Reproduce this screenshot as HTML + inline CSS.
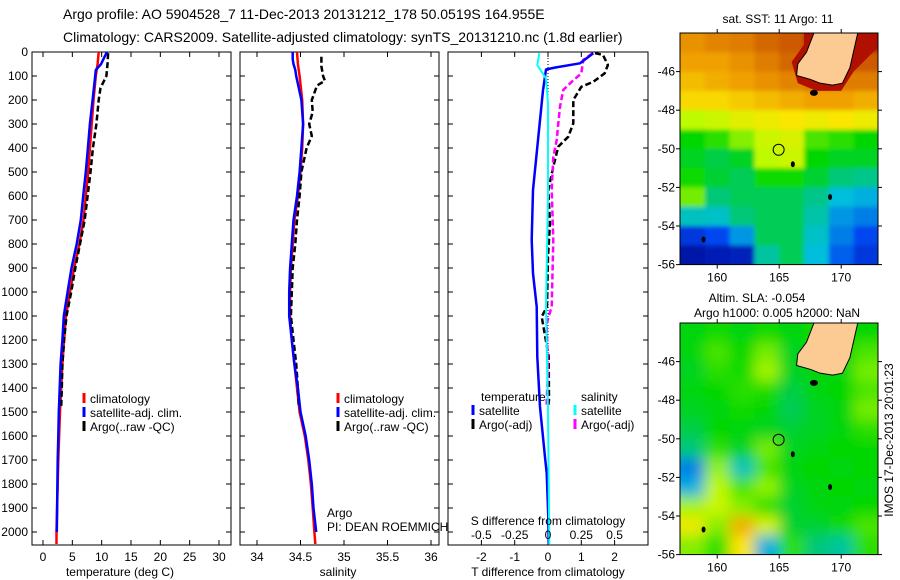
<!DOCTYPE html>
<html><head><meta charset="utf-8"><style>
body{margin:0;background:#fff}
svg{display:block;font-family:"Liberation Sans",sans-serif}
</style></head><body>
<svg id="fig" width="900" height="580" viewBox="0 0 900 580" xmlns="http://www.w3.org/2000/svg">
<rect width="900" height="580" fill="#fff"/>
<text x="63" y="19" font-size="14">Argo profile: AO 5904528_7 11-Dec-2013 20131212_178 50.0519S 164.955E</text>
<text x="63" y="42" font-size="14">Climatology: CARS2009. Satellite-adjusted climatology: synTS_20131210.nc (1.8d earlier)</text>
<g id="plots"></g>
</svg>
<script>
// ---- profile data ----
const climDepth=[0,50,100,200,300,400,500,600,700,800,900,1000,1100,1200,1300,1400,1500,1600,1700,1800,1900,2000,2050];
const climT=[9.5,9.3,9.0,8.6,8.3,8.0,7.7,7.3,6.9,6.2,5.3,4.6,3.9,3.6,3.3,3.1,2.9,2.75,2.6,2.5,2.4,2.3,2.3];
const climS=[34.46,34.47,34.49,34.52,34.53,34.52,34.50,34.47,34.43,34.41,34.39,34.38,34.38,34.40,34.43,34.46,34.49,34.55,34.59,34.62,34.64,34.66,34.67];
const satDepth=[0,30,50,75,100,200,300,400,500,600,700,800,900,1000,1100,1200,1300,1400,1500,1600,1700,1800,1900,2000];
const satT=[10.9,10.3,9.9,9.0,8.9,8.45,8.0,7.65,7.3,6.85,6.45,5.75,4.85,4.2,3.55,3.3,3.0,2.85,2.7,2.6,2.5,2.45,2.4,2.35];
const satS=[34.41,34.41,34.42,34.44,34.45,34.51,34.53,34.51,34.49,34.46,34.42,34.40,34.38,34.37,34.37,34.40,34.43,34.47,34.50,34.56,34.60,34.63,34.65,34.68];
const argoTDepth=[5,50,100,150,200,300,400,500,600,700,800,900,1000,1100,1200,1300,1400,1480];
const argoT=[11.1,11.0,10.8,9.8,9.5,9.1,8.5,8.1,7.6,7.1,6.3,5.5,4.8,4.0,3.6,3.3,3.2,3.1];
const argoSDepth=[20,60,100,120,140,200,250,300,350,400,500,600,700,800,900,1000,1100,1200,1300,1400,1480];
const argoS=[34.74,34.74,34.76,34.78,34.69,34.63,34.64,34.60,34.63,34.57,34.51,34.49,34.46,34.44,34.41,34.40,34.39,34.42,34.45,34.47,34.48];
const dTsatDepth=[5,47,65,73,160,367,575,783,922,1061,1271,1479,1688,1754,1938,2050];
const dTsat=[1.36,0.96,0.2,-0.06,-0.15,-0.3,-0.45,-0.49,-0.45,-0.34,-0.32,-0.24,-0.09,-0.04,0.01,0.02];
const dTargoDepth=[5,12,54,89,124,145,200,297,353,394,478,575,714,853,1061,1103,1158,1269,1450,1480];
const dTargo=[1.41,1.65,1.8,1.7,1.36,1.0,0.76,0.76,0.61,0.31,0.16,0.01,0.06,0,-0.03,-0.19,-0.12,0.02,0.03,0.0];
const dSsatDepth=[5,55,110,215,600,1061,1500,2050];
const dSsat=[-0.065,-0.08,-0.015,0,0,-0.015,0,0.01];
const dSargoDepth=[5,33,89,124,158,228,297,367,436,575,783,1061,1131,1339,1450,1480];
const dSargo=[0.335,0.265,0.25,0.178,0.115,0.09,0.077,0.065,0.04,0.028,0.04,0.028,-0.01,0.0,-0.01,-0.01];
const depthTicks=[0,100,200,300,400,500,600,700,800,900,1000,1100,1200,1300,1400,1500,1600,1700,1800,1900,2000];
const tTicks=[0,5,10,15,20,25,30];
const sTicks=[34,34.5,35,35.5,36];
const sTickLabels=["34","34.5","35","35.5","36"];
const dTicks=[-2,-1,0,1,2];
const dsLabels=["-0.5","-0.25","0","0.25","0.5"];
// ---- map data (colour fraction 0..1), rows lat -44..-55, cols lon 157..171 step 2 ----
const sstGrid=[
[0.82,0.84,0.85,0.88,0.90,0.97,0.97,0.97],
[0.80,0.80,0.82,0.85,0.88,0.92,0.90,0.90],
[0.76,0.78,0.80,0.82,0.84,0.86,0.85,0.85],
[0.72,0.72,0.74,0.76,0.78,0.80,0.80,0.78],
[0.60,0.62,0.66,0.68,0.70,0.68,0.70,0.68],
[0.47,0.50,0.56,0.62,0.64,0.52,0.50,0.47],
[0.45,0.43,0.45,0.60,0.62,0.47,0.45,0.45],
[0.48,0.44,0.42,0.48,0.48,0.44,0.40,0.38],
[0.55,0.40,0.42,0.42,0.42,0.38,0.30,0.28],
[0.33,0.32,0.40,0.42,0.42,0.35,0.25,0.22],
[0.12,0.15,0.25,0.42,0.42,0.32,0.22,0.15],
[0.04,0.06,0.07,0.36,0.42,0.30,0.18,0.12]];
const slaGrid=[
[0.46,0.48,0.46,0.48,0.46,0.48,0.46,0.47],
[0.46,0.52,0.47,0.55,0.45,0.48,0.47,0.52],
[0.45,0.50,0.48,0.58,0.45,0.46,0.46,0.55],
[0.46,0.47,0.50,0.49,0.43,0.46,0.47,0.52],
[0.45,0.46,0.48,0.47,0.42,0.45,0.46,0.55],
[0.43,0.47,0.46,0.45,0.44,0.45,0.46,0.50],
[0.40,0.50,0.45,0.55,0.45,0.46,0.47,0.47],
[0.22,0.57,0.33,0.52,0.46,0.47,0.46,0.47],
[0.28,0.60,0.52,0.57,0.45,0.46,0.47,0.46],
[0.58,0.62,0.56,0.50,0.44,0.46,0.46,0.47],
[0.68,0.56,0.78,0.64,0.44,0.44,0.48,0.52],
[0.56,0.50,0.70,0.28,0.50,0.40,0.36,0.50]];
const argoLon=164.955, argoLat=-50.0519;

const NS="http://www.w3.org/2000/svg";
const root=document.getElementById('plots');
function el(tag,attrs,parent){const e=document.createElementNS(NS,tag);for(const k in attrs)e.setAttribute(k,attrs[k]);(parent||root).appendChild(e);return e;}
const TOP=52,BOT=545;
const yD=d=>TOP+d*0.24;
function lin(d0,d1,r0,r1){return v=>r0+(v-d0)*(r1-r0)/(d1-d0);}
const panels=[
 {name:'temperature-panel',x0:32,x1:231,sx:lin(0,30,43,219),ticks:tTicks,labels:tTicks.map(String),title:'temperature (deg C)',tx:120},
 {name:'salinity-panel',x0:240,x1:439,sx:lin(34,36,257,431),ticks:sTicks,labels:sTickLabels,title:'salinity',tx:338},
 {name:'difference-panel',x0:448,x1:648,sx:lin(0,1,548,581.3),ticks:dTicks,labels:dTicks.map(String),title:'T difference from climatology',tx:548}
];
panels.forEach((p,i)=>{
 const g=el('g',{});
 
 
 const fr=el('rect',{x:p.x0,y:TOP,width:p.x1-p.x0,height:BOT-TOP,fill:'none',stroke:'#000','stroke-width':1},g);
 
 
 depthTicks.forEach(d=>{
  const y=yD(d);
  el('line',{x1:p.x0,x2:p.x0+5,y1:y,y2:y,stroke:'#000'},g);
  el('line',{x1:p.x1-5,x2:p.x1,y1:y,y2:y,stroke:'#000'},g);
  if(i===0){const t=el('text',{x:28,y:y+4,'font-size':12,'text-anchor':'end'},g);t.textContent=d;
   
   }
 });
 p.ticks.forEach((v,k)=>{
  const x=p.sx(v);
  el('line',{x1:x,x2:x,y1:BOT,y2:BOT-5,stroke:'#000'},g);
  el('line',{x1:x,x2:x,y1:TOP,y2:TOP+5,stroke:'#000'},g);
  const t=el('text',{x:x,y:561,'font-size':12,'text-anchor':'middle'},g);t.textContent=p.labels[k];
  
  
 });
 const tt=el('text',{x:p.tx,y:576,'font-size':12,'text-anchor':'middle'},g);tt.textContent=p.title;
 
 
});
function line(name,depths,vals,sx,color,dash,w){
 const pts=depths.map((d,k)=>sx(vals[k]).toFixed(1)+','+yD(d).toFixed(1)).join(' ');
 const a={points:pts,fill:'none',stroke:color,'stroke-width':w||2.5,'stroke-linejoin':'round'};
 if(dash)a['stroke-dasharray']=dash;
 const e=el('polyline',a);
 
 
}
const sT=panels[0].sx,sS=panels[1].sx,sD=panels[2].sx,sDS=v=>sD(v*4);
line('temp-climatology-line',climDepth,climT,sT,'#f00');
line('temp-argo-line',argoTDepth,argoT,sT,'#000','6,3',2.5);
line('temp-satellite-line',satDepth,satT,sT,'#00f');
line('sal-climatology-line',climDepth,climS,sS,'#f00');
line('sal-argo-line',argoSDepth,argoS,sS,'#000','6,3',2.5);
line('sal-satellite-line',satDepth,satS,sS,'#00f');
const zl=el('line',{x1:sD(0),x2:sD(0),y1:TOP,y2:BOT,stroke:'#000','stroke-dasharray':'1,2'});


line('tdiff-argo-line',dTargoDepth,dTargo,sD,'#000','6,3',2.5);
line('sdiff-argo-line',dSargoDepth,dSargo,sDS,'#f0f','6,3',2.5);
line('tdiff-satellite-line',dTsatDepth,dTsat,sD,'#00f');
line('sdiff-satellite-line',dSsatDepth,dSsat,sDS,'#0ff',null,2);

function txt(name,x,y,s,size,anchor){const t=el('text',{x:x,y:y,'font-size':size||12,'text-anchor':anchor||'start'});t.textContent=s;
 
 return t;}
function legend(name,x,y,color,label){
 const g=el('g',{});
 
 
 el('line',{x1:x,x2:x,y1:y-10,y2:y,stroke:color,'stroke-width':3},g);
 const t=el('text',{x:x+6,y:y,'font-size':12},g);t.textContent=label;
}
[[84,'#f00','climatology',403],[84,'#00f','satellite-adj. clim.',417],[84,'#000','Argo(..raw -QC)',431]].forEach(a=>legend('legend-entry',a[0],a[3],a[1],a[2]));
[[338,'#f00','climatology',403],[338,'#00f','satellite-adj. clim.',417],[338,'#000','Argo(..raw -QC)',431]].forEach(a=>legend('legend-entry',a[0],a[3],a[1],a[2]));
txt('legend-temperature-heading',481,401,'temperature');
txt('legend-salinity-heading',581,401,'salinity');
legend('legend-entry',473,415,'#00f','satellite');
legend('legend-entry',473,429,'#000','Argo(-adj)');
legend('legend-entry',575,415,'#0ff','satellite');
legend('legend-entry',575,429,'#f0f','Argo(-adj)');
txt('argo-label',327,517,'Argo');
txt('pi-label',327,531,'PI: DEAN ROEMMICH');
txt('s-diff-axis-title',548,525,'S difference from climatology',12,'middle');
dsLabels.forEach((s,k)=>txt('s-diff-tick-label',sD(dTicks[k]),539,s,12,'middle'));

// ---- maps ----
const stops=[[0,[0,0,140]],[0.15,[0,70,240]],[0.3,[0,190,220]],[0.4,[0,200,120]],[0.47,[0,215,0]],[0.6,[190,250,0]],[0.7,[250,230,0]],[0.8,[240,160,0]],[0.9,[205,90,0]],[1,[160,0,0]]];
function cmap(v){
 for(let i=1;i<stops.length;i++){if(v<=stops[i][0]){const a=stops[i-1],b=stops[i],t=(v-a[0])/(b[0]-a[0]);
  return 'rgb('+a[1].map((c,k)=>Math.round(c+(b[1][k]-c)*t)).join(',')+')';}}
 return 'rgb(160,0,0)';
}
const defs=el('defs',{});
const f=el('filter',{id:'blur',x:'-10%',y:'-10%',width:'120%',height:'120%'},defs);
el('feGaussianBlur',{stdDeviation:7},f);
const f2=el('filter',{id:'blur2'},defs);
el('feGaussianBlur',{stdDeviation:2},f2);
function map(name,top,grid,blurId,coastRed){
 const L=680,R=878,B=top+12*19.3;
 const mx=lon=>L+(lon-157)*12.4, my=lat=>top+(-44-lat)*19.3;
 const cp=el('clipPath',{id:'cp'+name},defs);
 el('rect',{x:L,y:top,width:R-L,height:B-top},cp);
 const g=el('g',{'clip-path':'url(#cp'+name+')'});
 
 
 const cg=el('g',{filter:'url(#'+blurId+')'},g);
 grid.forEach((row,r)=>row.forEach((v,c)=>{
  const x=mx(157+c*2)-(c===0?12:0), y=my(-44-r)-(r===0?12:0);
  const w=24.8+(c===0?12:0)+(c===7?14:0), h=19.3+(r===0?12:0)+(r===11?14:0);
  const cell=el('rect',{x:x,y:y,width:w+0.5,height:h+0.5,fill:cmap(v)},cg);
  
  
 }));
 if(coastRed){
  const cr=[[167.0,-43.5],[173.5,-43.5],[173.5,-44.4],[171.0,-46.0],[170.0,-47.0],[168.0,-47.0],[166.5,-46.6],[166.0,-45.5],[167.0,-44.6]];
  const c=el('polygon',{points:cr.map(p=>mx(p[0])+','+my(p[1])).join(' '),fill:'#b01000'},g);
  
  
 }
 const land=[[168.1,-43.5],[171.6,-43.5],[171.3,-44.1],[170.7,-45.8],[170.1,-46.6],[169.3,-46.7],[168.3,-46.6],[167.5,-46.4],[166.4,-46.2],[166.5,-45.6],[167.2,-45.0]];
 const lp=el('polygon',{points:land.map(p=>mx(p[0])+','+my(p[1])).join(' '),fill:'#fccb94',stroke:'#000','stroke-width':1},g);
 
 
 const si=el('ellipse',{cx:mx(167.8),cy:my(-47.1),rx:4,ry:3,fill:'#000'},g);
 
 
 [[166.1,-50.8],[169.1,-52.5],[158.9,-54.7]].forEach(p=>{const s=el('ellipse',{cx:mx(p[0]),cy:my(p[1]),rx:2,ry:3,fill:'#000'},g);
  
  });
 const pc=el('circle',{cx:mx(argoLon),cy:my(argoLat),r:5.5,fill:'none',stroke:'#000','stroke-width':1},g);
 
 
 const fr=el('rect',{x:L,y:top,width:R-L,height:B-top,fill:'none',stroke:'#000'});
 
 
 [-46,-48,-50,-52,-54,-56].forEach(lat=>{const y=my(lat);
  el('line',{x1:L-4,x2:L,y1:y,y2:y,stroke:'#000'});el('line',{x1:R,x2:R+4,y1:y,y2:y,stroke:'#000'});
  txt('lat-tick-label',675,y+4,String(lat),12,'end');});
 [160,165,170].forEach(lon=>{const x=mx(lon);
  el('line',{x1:x,x2:x,y1:B,y2:B+4,stroke:'#000'});el('line',{x1:x,x2:x,y1:top-4,y2:top,stroke:'#000'});
  txt('lon-tick-label',x,B+17,String(lon),12,'middle');});
}
map('sst-map',33,sstGrid,'blur2',true);
map('sla-map',323,slaGrid,'blur',false);
txt('sst-map-title',778,23,'sat. SST: 11 Argo: 11',12,'middle');
txt('sla-map-title',757,302,'Altim. SLA: -0.054',12,'middle');
txt('sla-map-subtitle',777,317,'Argo h1000: 0.005 h2000: NaN',12,'middle');
const ts=txt('timestamp',0,0,'IMOS 17-Dec-2013 20:01:23',12,'middle');
ts.setAttribute('transform','translate(893,440) rotate(-90)');
</script>
</body></html>
